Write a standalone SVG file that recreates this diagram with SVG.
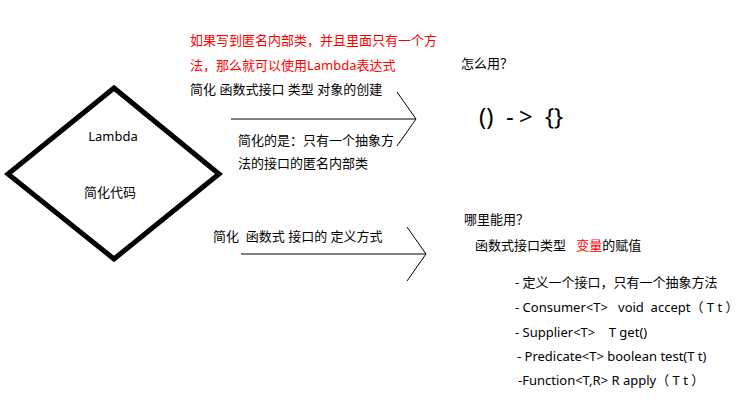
<svg xmlns="http://www.w3.org/2000/svg" width="743" height="410" viewBox="0 0 743 410">
<style>
  text { font-family: "Noto Sans", "Noto Sans CJK SC", sans-serif; font-size: 13px; fill: #000; }
  .red { fill: #ff0000; }
  .big { font-size: 24px; }
  .conn { stroke: #000; stroke-width: 1; fill: none; }
</style>
<defs>
  <marker id="chev" markerUnits="userSpaceOnUse" markerWidth="22" markerHeight="58" viewBox="-1 -2 22 58" refX="19" refY="27" orient="auto">
    <path d="M0,0 L19,27 L0,54" fill="none" stroke="#000" stroke-width="1"/>
  </marker>
</defs>
<rect width="743" height="410" fill="#fff"/>
<g id="lambda-node">
  <polygon points="114,88 219,174 114,259 8,174" fill="none" stroke="#000" stroke-width="5"/>
  <text x="113" y="141" text-anchor="middle">Lambda</text>
  <text x="110" y="197" text-anchor="middle">简化代码</text>
</g>
<g id="connectors">
  <line class="conn" x1="231" y1="119" x2="416" y2="119" marker-end="url(#chev)"/>
  <line class="conn" x1="241" y1="254" x2="426" y2="254" marker-end="url(#chev)"/>
</g>
<g id="label-top">
  <text class="red" x="190" y="45">如果写到匿名内部类，并且里面只有一个方</text>
  <text class="red" x="190" y="70">法，那么就可以使用Lambda表达式</text>
  <text x="190" y="94">简化 函数式接口 类型 对象的创建</text>
</g>
<g id="label-top-below">
  <text x="238" y="145">简化的是：只有一个抽象方</text>
  <text x="238" y="168">法的接口的匿名内部类</text>
</g>
<g id="label-bottom">
  <text x="213" y="241" xml:space="preserve">简化  函数式 接口的 定义方式</text>
</g>
<g id="how-node">
  <text x="461" y="68">怎么用？</text>
  <text class="big" y="125" xml:space="preserve"><tspan x="479">()</tspan> <tspan x="506">-</tspan><tspan x="519">&gt;</tspan> <tspan x="545">{}</tspan></text>
</g>
<g id="where-node">
  <text x="464" y="224">哪里能用？</text>
  <text x="475" y="250" xml:space="preserve">函数式接口类型   <tspan class="red">变量</tspan>的赋值</text>
  <text x="515" y="287">- 定义一个接口，只有一个抽象方法</text>
  <text x="515" y="312" xml:space="preserve">- Consumer&lt;T&gt;   void  accept（ T t ）</text>
  <text x="515" y="337" xml:space="preserve">- Supplier&lt;T&gt;    T get()</text>
  <text x="517" y="361" xml:space="preserve">- Predicate&lt;T&gt; boolean test(T t)</text>
  <text x="518" y="385" xml:space="preserve">-Function&lt;T,R&gt; R apply（ T t ）</text>
</g>
</svg>
